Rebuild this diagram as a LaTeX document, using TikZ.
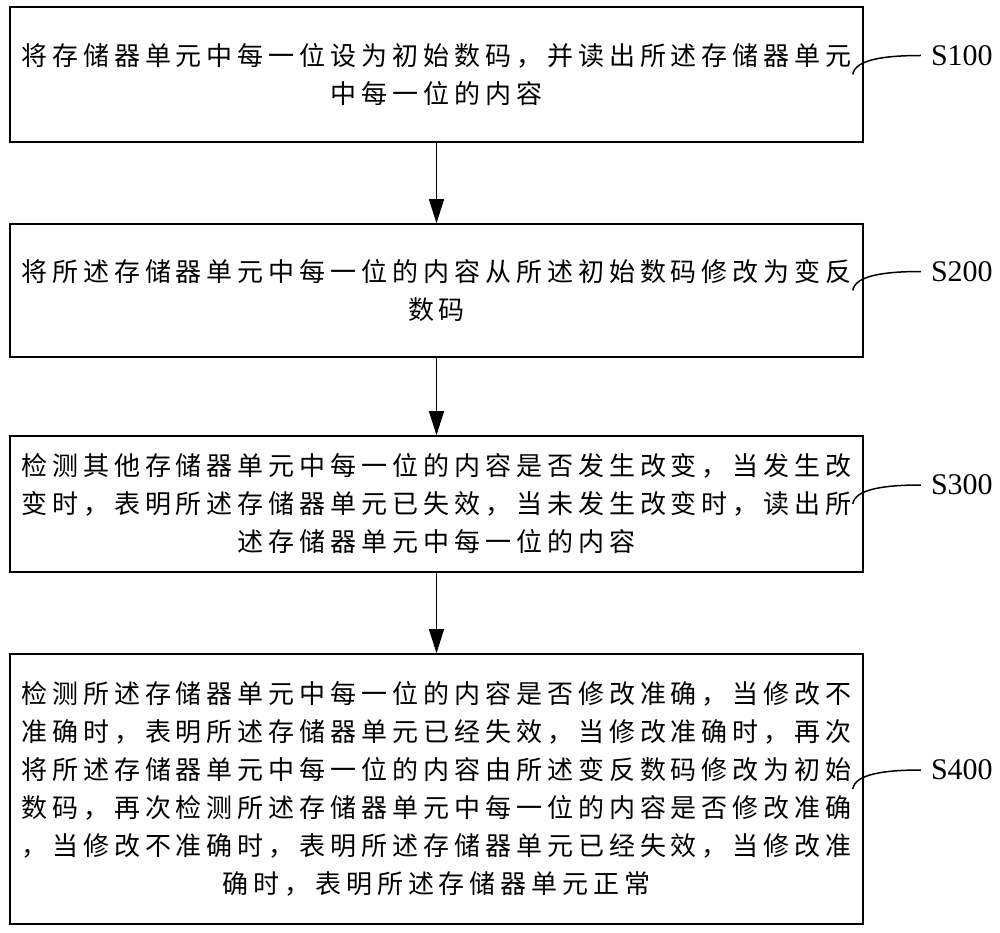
\documentclass[tikz,border=0pt]{standalone}
\usepackage{fontspec}
\setmainfont{Liberation Serif}
\newfontfamily\cjk{Noto Sans CJK SC}[LetterSpace=19]
\usetikzlibrary{arrows.meta}
\begin{document}
\begin{tikzpicture}[x=1pt,y=-1pt,
  stepbox/.style={draw, line width=1.6pt, minimum width=853pt, inner sep=0pt, align=center, font=\cjk\fontsize{26}{38}\selectfont},
  flow/.style={-{Triangle[length=24pt,width=15pt]}, line width=1.2pt},
  lbl/.style={font=\fontsize{30}{30}\selectfont, anchor=west, inner sep=0pt},
  lead/.style={line width=1.5pt}]
\useasboundingbox (0,0) rectangle (1000,933);
\node[stepbox, minimum height=135pt] (b1) at (436.5,74.5) {将存储器单元中每一位设为初始数码，并读出所述存储器单元\\中每一位的内容};
\node[stepbox, minimum height=133pt] (b2) at (436.5,290.5) {将所述存储器单元中每一位的内容从所述初始数码修改为变反\\数码};
\node[stepbox, minimum height=136pt] (b3) at (436.5,504) {检测其他存储器单元中每一位的内容是否发生改变，当发生改\\变时，表明所述存储器单元已失效，当未发生改变时，读出所\\述存储器单元中每一位的内容};
\node[stepbox, minimum height=270pt] (b4) at (436.5,789) {检测所述存储器单元中每一位的内容是否修改准确，当修改不\\准确时，表明所述存储器单元已经失效，当修改准确时，再次\\将所述存储器单元中每一位的内容由所述变反数码修改为初始\\数码，再次检测所述存储器单元中每一位的内容是否修改准确\\，当修改不准确时，表明所述存储器单元已经失效，当修改准\\确时，表明所述存储器单元正常};
\draw[flow] (b1.south) -- (b2.north);
\draw[flow] (b2.south) -- (b3.north);
\draw[flow] (b3.south) -- (b4.north);
\foreach \i/\t in {1/S100,2/S200,3/S300,4/S400}{
  \node[lbl] (l\i) at ([shift={(67pt,19pt)}]b\i.east) {\t};
  \draw[lead] ([xshift=-10pt]l\i.west) .. controls +(-36,0) and +(2,-15) .. ([xshift=-11pt]b\i.east);
}
\end{tikzpicture}
\end{document}
